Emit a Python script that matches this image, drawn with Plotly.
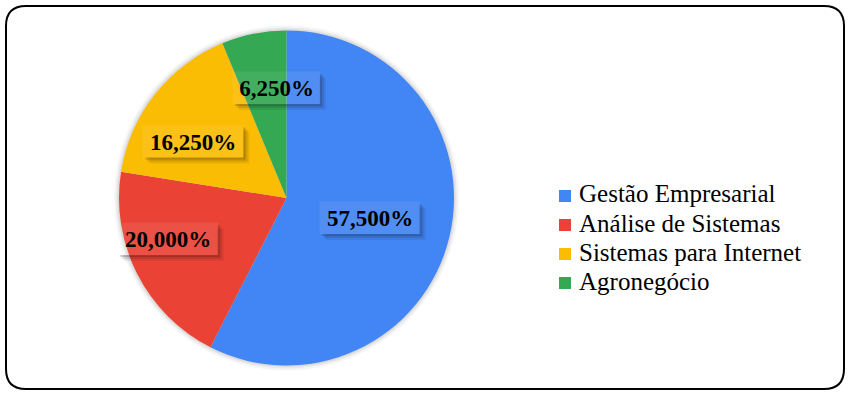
import math
import plotly.graph_objects as go

# ---- data ----
categories = ["Gestão Empresarial", "Análise de Sistemas", "Sistemas para Internet", "Agronegócio"]
values = [46, 16, 13, 5]
colors = ["#4285F4", "#EA4335", "#FBBC04", "#34A853"]

# ---- layout constants ----
W, H = 853, 396
cx, cy, R = 286.5, 198.0, 167.5
label_frac = [0.51, 0.75, 0.65, 0.66]
angle_nudge = [0, 8, -7, 6]
FONT = "Liberation Serif, Times New Roman, serif"


def px(x):
    return x / W


def py(y):
    return 1 - y / H


fig = go.Figure(go.Pie(
    labels=categories, values=values, sort=False, direction="clockwise", rotation=0,
    marker=dict(colors=colors, line=dict(width=0)), textinfo="none",
    hoverinfo="label+percent", showlegend=False,
    domain=dict(x=[px(cx - R), px(cx + R)], y=[py(cy + R), py(cy - R)]),
))

shapes = []
# soft glow around pie
for extra, alpha in [(5, 0.04), (3, 0.05), (1.5, 0.06)]:
    rr = R + extra
    shapes.append(dict(type="circle", xref="paper", yref="paper", layer="below",
                       x0=px(cx - rr), x1=px(cx + rr), y0=py(cy + rr), y1=py(cy - rr),
                       fillcolor=f"rgba(0,0,0,{alpha})", line=dict(width=0)))

annotations = []
total = sum(values)
cum = 0
for i, v in enumerate(values):
    pct = v / total * 100
    mid = (cum + v / 2) / total * 360 + angle_nudge[i]
    cum += v
    r = R * label_frac[i]
    lx = cx + r * math.sin(math.radians(mid))
    ly = cy - r * math.cos(math.radians(mid))
    plain = f"{pct:.3f}".replace(".", ",") + "%"
    bw, bh = 13 * len(plain) + 9, 32
    bx0, bx1, by0, by1 = lx - bw / 2, lx + bw / 2, ly - bh / 2, ly + bh / 2
    # blurred drop shadow (right & bottom strips)
    for s, a in [(6, 0.07), (4, 0.10), (2, 0.16)]:
        shapes.append(dict(type="rect", xref="paper", yref="paper", layer="above",
                           x0=px(bx0 + s), x1=px(bx1 + s), y0=py(by1 + s), y1=py(by1),
                           fillcolor=f"rgba(0,0,0,{a})", line=dict(width=0)))
        shapes.append(dict(type="rect", xref="paper", yref="paper", layer="above",
                           x0=px(bx1), x1=px(bx1 + s), y0=py(by1), y1=py(by0 + s),
                           fillcolor=f"rgba(0,0,0,{a})", line=dict(width=0)))
    annotations.append(dict(x=px(lx), y=py(ly), xref="paper", yref="paper",
                            xanchor="center", yanchor="middle",
                            text=f"<b>{plain}</b>", width=bw, height=bh, borderpad=0,
                            showarrow=False, font=dict(family=FONT, size=23, color="black"),
                            bgcolor="rgba(255,255,255,0.08)"))

# legend
for i, name in enumerate(categories):
    yc = 196 + 29 * i
    shapes.append(dict(type="rect", xref="paper", yref="paper",
                       x0=px(559), x1=px(571), y0=py(yc + 6), y1=py(yc - 6),
                       fillcolor=colors[i], line=dict(width=0)))
    annotations.append(dict(x=px(577), y=py(yc - 2), xref="paper", yref="paper", text=name,
                            xanchor="left", yanchor="middle", showarrow=False,
                            font=dict(family=FONT, size=25, color="black")))

# rounded border
x0, x1, y0, y1, rc = 6, 844, 6, 389, 20
pts = [
    ("M", [(x0 + rc, y0)]), ("L", [(x1 - rc, y0)]), ("Q", [(x1, y0), (x1, y0 + rc)]),
    ("L", [(x1, y1 - rc)]), ("Q", [(x1, y1), (x1 - rc, y1)]), ("L", [(x0 + rc, y1)]),
    ("Q", [(x0, y1), (x0, y1 - rc)]), ("L", [(x0, y0 + rc)]), ("Q", [(x0, y0), (x0 + rc, y0)]),
]
path = " ".join(cmd + " " + " ".join(f"{px(a):.5f},{py(b):.5f}" for a, b in p) for cmd, p in pts) + " Z"
shapes.append(dict(type="path", xref="paper", yref="paper", path=path,
                   line=dict(color="black", width=2)))

fig.update_layout(width=W, height=H, margin=dict(l=0, r=0, t=0, b=0),
                  paper_bgcolor="white", plot_bgcolor="white",
                  shapes=shapes, annotations=annotations, showlegend=False)
fig.write_html("out.html", config={"displayModeBar": False},
               post_script="document.body.style.margin='0';document.body.style.overflow='hidden';")
